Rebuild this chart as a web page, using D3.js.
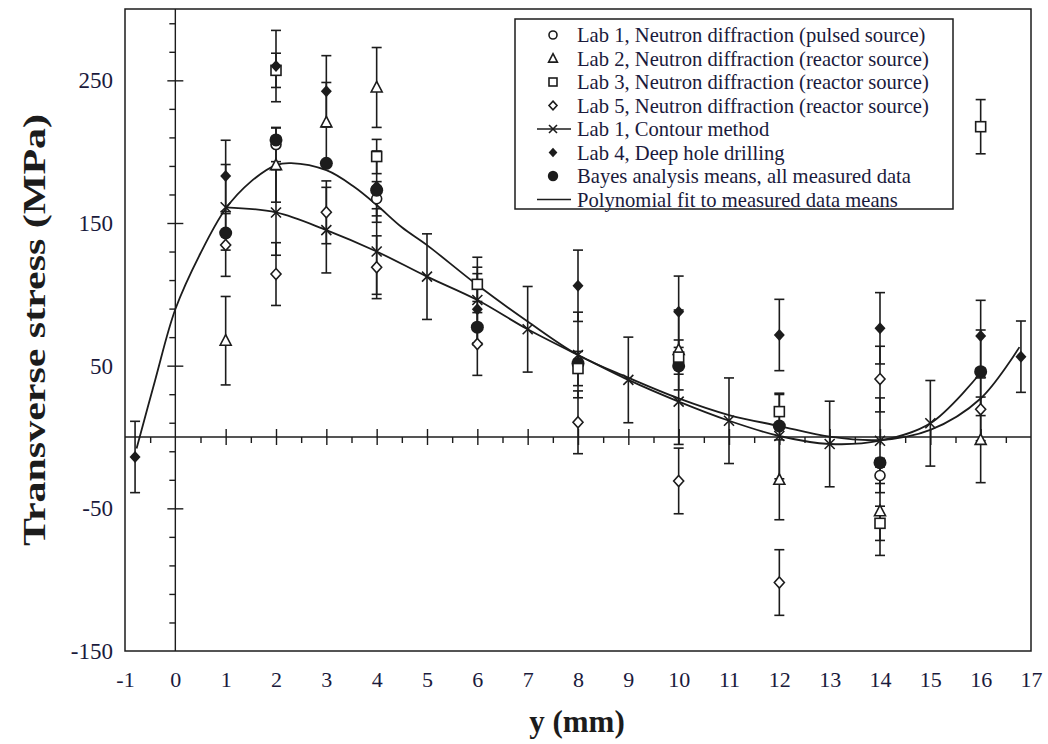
<!DOCTYPE html>
<html><head><meta charset="utf-8">
<script src="https://cdn.jsdelivr.net/npm/d3@7"></script>
<style>body{margin:0;background:#fff} svg{display:block}</style>
</head><body>
<svg id="chart" width="1048" height="744"></svg>
<script>
// ---------- data ----------
const xTickLabels = [-1,0,1,2,3,4,5,6,7,8,9,10,11,12,13,14,15,16,17];
const yTickLabels = [-150,-50,50,150,250];

const lab1X = [2,4,14];
const lab1Y = [205,167,-27];
const lab1Err = [12,12,12];

const lab2X = [1,2,3,4,10,12,14,16];
const lab2Y = [67.5,190.6,220.5,245,61,-30,-52,-2];
const lab2Err = [31,26,28,28,28,28,31,30];

const lab3X = [2,4,6,8,10,12,14,16];
const lab3Y = [257,196.6,107,48,56,17.8,-60.5,217.5];
const lab3Err = [12,12,12,12,12,12,12,19];

const lab5X = [1,2,3,4,6,8,10,12,14,16];
const lab5Y = [134.6,114.2,157.5,119,65.2,10.3,-30.8,-102,40.6,19.4];
const lab5Err = [22,22,22,22,22,22,23,23,23,22];

const contourX = [1,2,3,4,5,6,7,8,9,10,11,12,13,14,15,16];
const contourY = [161,157.4,145,130,112.4,96,75.5,57.5,40,24.8,11.4,0.7,-4.9,-2.6,9.6,45];
const contourErr = [30,30,30,30,30,30,30,30,30,30,30,30,30,30,30,30];

const lab4X = [-0.8,1,2,3,4,6,8,10,12,14,16,16.8];
const lab4Y = [-14,183,260,242.3,175.5,89.5,106,87.8,71.5,76.2,70.8,56.3];
const lab4Err = [25,25,25,25,25,25,25,25,25,25,25,25];

const bayesX = [1,2,3,4,6,8,10,12,14,16];
const bayesY = [143,208.2,191.8,173,77,51.6,49.8,7.7,-18,45.8];

const polyX = [-0.77,-0.4,0,0.5,1,1.5,2,2.3,3,3.55,4,4.5,5,6,7,8,9,10,11,12,13,14,15,16,16.77];
const polyY = [-8,40,89.5,128.8,160,179,190.6,192,187,175.4,162.6,147,134.5,106.5,81,57.5,41.6,27.1,15.4,7.7,0.2,-2.1,5,27,63];

const legendLabels = [
  "Lab 1, Neutron diffraction (pulsed source)",
  "Lab 2, Neutron diffraction (reactor source)",
  "Lab 3, Neutron diffraction (reactor source)",
  "Lab 5, Neutron diffraction (reactor source)",
  "Lab 1, Contour method",
  "Lab 4, Deep hole drilling",
  "Bayes analysis means, all measured data",
  "Polynomial fit to measured data means"
];
const legendKinds = ["circle","triangle","square","odiamond","contour","fdiamond","bayes","line"];

// ---------- chart ----------
const svg = d3.select("#chart");
const L = 125, R = 1031, T = 9, B = 651;
const x = d3.scaleLinear().domain([-1,17]).range([L,R]);
const y = d3.scaleLinear().domain([-150,300]).range([B,T]);
const INK = "#1c1c1c";
const SERIF = "'Liberation Serif','Times New Roman',serif";
const fmt = d => String(d);

// frame
svg.append("rect").attr("x",L).attr("y",T).attr("width",R-L).attr("height",B-T)
  .attr("fill","none").attr("stroke",INK).attr("stroke-width",1.5);

// zero lines
svg.append("line").attr("x1",x(0)).attr("x2",x(0)).attr("y1",T).attr("y2",B).attr("stroke",INK).attr("stroke-width",1.4);
svg.append("line").attr("x1",L).attr("x2",R).attr("y1",y(0)).attr("y2",y(0)).attr("stroke",INK).attr("stroke-width",1.4);

// ticks on the zero lines
const yAll = d3.range(-130,300,20);
const yMajor = yAll.filter(v => ((v-50)%100+100)%100===0);
const yMinor = yAll.filter(v => !yMajor.includes(v));
function tickGroup(axis){
  const g = svg.append("g").call(axis);
  g.select(".domain").remove();
  g.selectAll("line").attr("stroke",INK).attr("stroke-width",1.4);
  g.selectAll("text").remove();
  return g;
}
tickGroup(d3.axisLeft(y).tickValues(yMajor).tickSize(8)).attr("transform",`translate(${x(0)},0)`);
tickGroup(d3.axisRight(y).tickValues(yMajor).tickSize(8)).attr("transform",`translate(${x(0)},0)`);
tickGroup(d3.axisLeft(y).tickValues(yMinor).tickSize(6)).attr("transform",`translate(${x(0)},0)`);
const xMajor = d3.range(1,17,1);
const xMinor = d3.range(-0.5,17,1);
tickGroup(d3.axisTop(x).tickValues(xMajor).tickSize(8)).attr("transform",`translate(0,${y(0)})`);
tickGroup(d3.axisBottom(x).tickValues(xMajor).tickSize(8)).attr("transform",`translate(0,${y(0)})`);
tickGroup(d3.axisBottom(x).tickValues(xMinor).tickSize(6)).attr("transform",`translate(0,${y(0)})`);

// tick labels
const yAx = svg.append("g").attr("transform",`translate(${L},0)`)
  .call(d3.axisLeft(y).tickValues(yTickLabels).tickSize(0).tickPadding(12).tickFormat(fmt));
yAx.select(".domain").remove();
yAx.selectAll("text").attr("font-family",SERIF).attr("font-size",23).attr("fill","#1a1a3c");
const xAx = svg.append("g").attr("transform",`translate(0,${B})`)
  .call(d3.axisBottom(x).tickValues(xTickLabels).tickSize(0).tickPadding(20).tickFormat(fmt));
xAx.select(".domain").remove();
xAx.selectAll("text").attr("font-family",SERIF).attr("font-size",22).attr("fill","#1a1a3c");

// axis titles
svg.append("text").attr("transform","translate(45,330) rotate(-90)").attr("text-anchor","middle")
  .attr("font-family",SERIF).attr("font-weight","bold").attr("font-size",31).attr("fill",INK)
  .attr("textLength",432).attr("lengthAdjust","spacingAndGlyphs").text("Transverse stress (MPa)");
svg.append("text").attr("x",577).attr("y",732).attr("text-anchor","middle")
  .attr("font-family",SERIF).attr("font-weight","bold").attr("font-size",31).attr("fill",INK)
  .text("y (mm)");

// lines
const curve = d3.line().x(d=>x(d[0])).y(d=>y(d[1])).curve(d3.curveCatmullRom.alpha(0.5));
svg.append("path").datum(d3.zip(polyX,polyY)).attr("d",curve)
  .attr("fill","none").attr("stroke",INK).attr("stroke-width",1.8);
svg.append("path").datum(d3.zip(contourX,contourY)).attr("d",curve)
  .attr("fill","none").attr("stroke",INK).attr("stroke-width",1.8);

// error bars
function errBars(xs,ys,es){
  const g = svg.append("g").attr("stroke",INK).attr("stroke-width",1.6);
  xs.forEach((xv,i)=>{
    const cx = x(xv), y1 = y(ys[i]+es[i]), y2 = y(ys[i]-es[i]);
    g.append("line").attr("x1",cx).attr("x2",cx).attr("y1",y1).attr("y2",y2);
    g.append("line").attr("x1",cx-5).attr("x2",cx+5).attr("y1",y1).attr("y2",y1);
    g.append("line").attr("x1",cx-5).attr("x2",cx+5).attr("y1",y2).attr("y2",y2);
  });
}
errBars(contourX,contourY,contourErr);
errBars(lab5X,lab5Y,lab5Err);
errBars(lab2X,lab2Y,lab2Err);
errBars(lab3X,lab3Y,lab3Err);
errBars(lab1X,lab1Y,lab1Err);
errBars(lab4X,lab4Y,lab4Err);

// markers
function marker(g,kind,cx,cy,s){
  s = s||1;
  if(kind==="circle") g.append("circle").attr("cx",cx).attr("cy",cy).attr("r",5*s).attr("fill","#fff").attr("stroke",INK).attr("stroke-width",1.6);
  else if(kind==="triangle") g.append("path").attr("d",`M${cx},${cy-6*s}L${cx+5.5*s},${cy+4.5*s}L${cx-5.5*s},${cy+4.5*s}Z`).attr("fill","#fff").attr("stroke",INK).attr("stroke-width",1.6);
  else if(kind==="square") g.append("rect").attr("x",cx-5*s).attr("y",cy-5*s).attr("width",10*s).attr("height",10*s).attr("fill","#fff").attr("stroke",INK).attr("stroke-width",1.6);
  else if(kind==="odiamond") g.append("path").attr("d",`M${cx},${cy-5.5*s}L${cx+5*s},${cy}L${cx},${cy+5.5*s}L${cx-5*s},${cy}Z`).attr("fill","#fff").attr("stroke",INK).attr("stroke-width",1.6);
  else if(kind==="fdiamond") g.append("path").attr("d",`M${cx},${cy-6*s}L${cx+5.5*s},${cy}L${cx},${cy+6*s}L${cx-5.5*s},${cy}Z`).attr("fill",INK);
  else if(kind==="bayes") g.append("circle").attr("cx",cx).attr("cy",cy).attr("r",6.5*s).attr("fill",INK);
  else if(kind==="x") g.append("path").attr("d",`M${cx-5*s},${cy-5*s}L${cx+5*s},${cy+5*s}M${cx-5*s},${cy+5*s}L${cx+5*s},${cy-5*s}`).attr("stroke",INK).attr("stroke-width",1.6);
}
function series(xs,ys,kind){
  const g = svg.append("g");
  xs.forEach((xv,i)=>marker(g,kind,x(xv),y(ys[i])));
}
series(contourX,contourY,"x");
series(lab5X,lab5Y,"odiamond");
series(lab2X,lab2Y,"triangle");
series(lab1X,lab1Y,"circle");
series(bayesX,bayesY,"bayes");
series(lab3X,lab3Y,"square");
series(lab4X,lab4Y,"fdiamond");

// legend
const lg = svg.append("g");
lg.append("rect").attr("x",515).attr("y",19).attr("width",438).attr("height",190)
  .attr("fill","#fff").attr("stroke",INK).attr("stroke-width",1.5);
legendLabels.forEach((lab,i)=>{
  const cy = 35 + i*23.5;
  const k = legendKinds[i];
  if(k==="contour"){
    lg.append("line").attr("x1",537).attr("x2",571).attr("y1",cy).attr("y2",cy).attr("stroke",INK).attr("stroke-width",1.6);
    marker(lg,"x",553,cy,0.8);
  } else if(k==="line"){
    lg.append("line").attr("x1",537).attr("x2",571).attr("y1",cy).attr("y2",cy).attr("stroke",INK).attr("stroke-width",1.6);
  } else {
    marker(lg,k,553,cy,0.8);
  }
  lg.append("text").attr("x",577).attr("y",cy).attr("dy","0.35em")
    .attr("font-family",SERIF).attr("font-size",20.6).attr("fill","#1a1a3c").text(lab);
});
</script>
</body></html>
